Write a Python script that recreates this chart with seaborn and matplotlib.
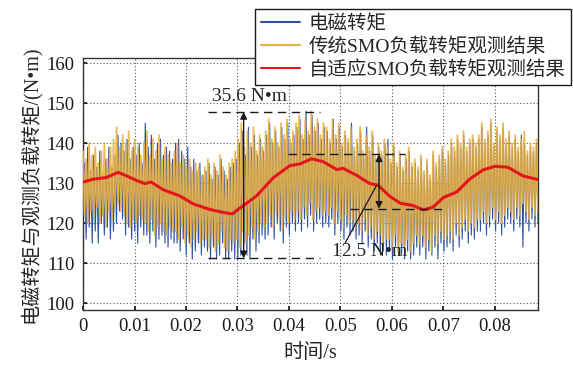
import numpy as np
import pandas as pd
import matplotlib
matplotlib.use("Agg")
import matplotlib.pyplot as plt
import seaborn as sns

# time span of the record (s)
t_end = 0.0884

# adaptive SMO observer (smooth red curve)
red_t = [0.0000, 0.0020, 0.0045, 0.0068, 0.0085, 0.0105, 0.0120, 0.0132, 0.0155,
         0.0188, 0.0214, 0.0247, 0.0275, 0.0290, 0.0305, 0.0337, 0.0370, 0.0402,
         0.0421, 0.0444, 0.0466, 0.0493, 0.0505, 0.0531, 0.0557, 0.0573, 0.0596,
         0.0616, 0.0641, 0.0661, 0.0680, 0.0700, 0.0726, 0.0751, 0.0777, 0.0800,
         0.0825, 0.0855, 0.0884]
red_v = [130.3, 131.0, 131.4, 132.7, 131.8, 130.6, 129.9, 130.3, 128.4,
         126.8, 124.8, 123.4, 122.6, 122.3, 123.8, 126.8, 131.4, 134.4,
         134.8, 136.1, 135.4, 133.4, 133.7, 132.0, 129.9, 129.5, 126.7,
         125.0, 124.4, 123.3, 124.0, 126.4, 127.8, 131.0, 133.3, 134.2,
         134.0, 131.8, 130.9]

# traditional SMO observer (orange): successive peaks and troughs
orange_peaks = [138, 136, 140, 137, 139, 135, 138, 140, 136, 139,
                141, 144, 139, 142, 140, 143, 138, 141, 139, 137,
                140, 143, 137, 141, 138, 142, 136, 139, 137, 135,
                138, 140, 135, 137, 134, 136, 133, 135, 134, 132,
                134, 136, 132, 135, 133, 137, 134, 132, 135, 136,
                138, 141, 145, 139, 143, 140, 144, 138, 142, 139,
                143, 146, 141, 144, 140, 145, 142, 146, 141, 143,
                145, 147, 142, 146, 143, 148, 144, 146, 142, 145,
                144, 141, 146, 142, 145, 140, 143, 141, 144, 139,
                141, 144, 138, 142, 139, 143, 137, 140, 138, 141,
                139, 136, 140, 135, 138, 134, 137, 139, 135, 136,
                134, 137, 133, 136, 132, 138, 135, 137, 139, 136,
                138, 141, 139, 142, 140, 143, 139, 141, 142, 140,
                142, 145, 141, 143, 146, 140, 144, 142, 145, 141,
                143, 140, 142, 139, 141, 143, 138, 140, 139, 141]
orange_troughs = [122, 120, 123, 121, 124, 120, 122, 119, 123, 121,
                  124, 125, 123, 122, 120, 119, 121, 120, 122, 121,
                  120, 118, 121, 117, 119, 120, 118, 117, 119, 118,
                  118, 116, 119, 115, 117, 114, 116, 118, 115, 116,
                  116, 114, 117, 113, 115, 118, 114, 113, 116, 115,
                  116, 114, 118, 115, 117, 119, 116, 118, 120, 119,
                  120, 122, 119, 123, 121, 118, 122, 120, 123, 121,
                  123, 121, 124, 122, 125, 121, 123, 124, 122, 123,
                  122, 124, 120, 123, 121, 119, 122, 120, 121, 119,
                  120, 118, 121, 117, 119, 116, 118, 117, 115, 116,
                  116, 114, 117, 113, 115, 114, 116, 113, 115, 117,
                  115, 117, 114, 116, 113, 117, 115, 118, 116, 117,
                  118, 116, 120, 117, 119, 121, 118, 120, 119, 121,
                  121, 123, 120, 122, 124, 121, 123, 120, 122, 124,
                  123, 121, 124, 122, 125, 123, 121, 124, 122, 123]

# electromagnetic torque (blue): successive peaks and troughs
blue_peaks = [135, 139, 133, 137, 134, 138, 132, 136, 139, 134,
              137, 142, 140, 138, 141, 136, 139, 137, 140, 135,
              145, 139, 142, 136, 140, 141, 137, 139, 138, 136,
              140, 141, 138, 136, 139, 134, 136, 133, 135, 132,
              133, 135, 131, 134, 132, 136, 133, 131, 134, 135,
              136, 140, 143, 137, 144, 139, 142, 137, 141, 138,
              142, 145, 140, 143, 139, 144, 141, 145, 140, 142,
              144, 146, 141, 148, 142, 147, 143, 145, 141, 144,
              143, 140, 146, 141, 144, 139, 142, 140, 145, 138,
              140, 143, 137, 144, 138, 142, 136, 139, 137, 140,
              141, 135, 139, 134, 137, 133, 136, 138, 134, 135,
              133, 136, 132, 135, 131, 137, 134, 136, 138, 135,
              137, 140, 138, 141, 139, 142, 138, 140, 141, 139,
              141, 144, 140, 142, 145, 139, 143, 141, 144, 140,
              142, 139, 141, 138, 142, 140, 137, 139, 138, 140]
blue_troughs = [116, 119, 115, 118, 115, 120, 117, 119, 116, 118,
                120, 123, 121, 117, 119, 116, 118, 115, 119, 117,
                117, 115, 118, 114, 116, 117, 115, 114, 116, 115,
                115, 113, 116, 112, 115, 111, 113, 115, 112, 114,
                113, 111, 114, 111, 112, 115, 111, 111, 113, 111,
                111, 112, 115, 112, 111, 116, 113, 115, 117, 116,
                117, 119, 116, 120, 118, 115, 119, 117, 120, 118,
                120, 118, 121, 119, 122, 118, 120, 121, 119, 120,
                119, 121, 117, 120, 118, 116, 119, 117, 118, 116,
                117, 115, 118, 114, 116, 113, 115, 112, 113, 112,
                113, 111, 114, 112, 112, 111, 113, 111, 112, 114,
                112, 114, 111, 113, 112, 114, 111, 115, 113, 114,
                115, 113, 117, 114, 116, 118, 115, 117, 116, 118,
                118, 120, 117, 119, 121, 118, 120, 117, 119, 121,
                120, 118, 121, 119, 114, 120, 118, 121, 119, 120]

legend_labels = ["电磁转矩", "传统SMO负载转矩观测结果", "自适应SMO负载转矩观测结果"]

# annotation values
span_big = (111.2, 147.8)
span_small = (123.6, 137.2)


def zigzag(peaks, troughs):
    vals = []
    for p, q in zip(peaks, troughs):
        vals.extend([p, q])
    return vals


orange_v = zigzag(orange_peaks, orange_troughs)
blue_v = zigzag(blue_peaks, blue_troughs)
orange_df = pd.DataFrame({"t": np.linspace(0, t_end, len(orange_v)), "v": orange_v})
blue_df = pd.DataFrame({"t": np.linspace(0.0003, t_end, len(blue_v)), "v": blue_v})
red_df = pd.DataFrame({"t": red_t, "v": red_v})

sns.set_theme(style="ticks")
fams = ["Liberation Serif", "Noto Sans CJK SC"]
plt.rcParams["font.family"] = fams
plt.rcParams["axes.unicode_minus"] = False

fig = plt.figure(figsize=(5.73, 3.65), dpi=100)
ax = fig.add_axes([0.145, 0.151, 0.794, 0.690])

c_blue = "#2c52a6"
c_orange = "#e8ae3e"
c_red = "#e3161b"

sns.lineplot(data=blue_df, x="t", y="v", ax=ax, color=c_blue, lw=0.8,
             sort=False, estimator=None, label=legend_labels[0], zorder=2)
sns.lineplot(data=orange_df, x="t", y="v", ax=ax, color=c_orange, lw=1.3, alpha=0.85,
             sort=False, estimator=None, label=legend_labels[1], zorder=3)
sns.lineplot(data=red_df, x="t", y="v", ax=ax, color=c_red, lw=2.2,
             sort=False, estimator=None, label=legend_labels[2], zorder=4)

ax.set_xlim(0, t_end)
ax.set_ylim(98.3, 161.3)
ax.set_xticks(np.arange(0, 0.081, 0.01))
ax.set_xticklabels(["0"] + ["%.2f" % v for v in np.arange(0.01, 0.081, 0.01)])
ax.set_yticks(range(100, 161, 10))
ax.grid(True, linestyle=(0, (1, 2)), color="#555555", lw=0.8)
ax.tick_params(direction="in", length=3, labelsize=13.5, colors="k", pad=6)
for s in ax.spines.values():
    s.set_visible(True)
    s.set_color("#333333")
    s.set_linewidth(1.0)

ax.set_xlabel("时间/s", fontsize=14.5, labelpad=6)
ax.set_ylabel("电磁转矩与观测负载转矩/(N•m)", fontsize=14.5, labelpad=4)

# 35.6 N•m span
dash = dict(color="k", lw=1.0, linestyle=(0, (6, 4)), zorder=6)
ax.plot([0.0243, 0.0460], [span_big[1]] * 2, **dash)
ax.plot([0.0243, 0.0460], [span_big[0]] * 2, **dash)
ax.annotate("", xy=(0.0312, span_big[1]), xytext=(0.0312, span_big[0]),
            arrowprops=dict(arrowstyle="<|-|>", color="k", lw=1.0, mutation_scale=10,
                            shrinkA=0, shrinkB=0), zorder=7)
ax.text(0.0324, 151.8, "35.6 N•m", fontsize=14, ha="center", va="center", zorder=7)

# 12.5 N•m span
ax.plot([0.0398, 0.0625], [span_small[1]] * 2, **dash)
ax.plot([0.0518, 0.0707], [span_small[0]] * 2, **dash)
ax.annotate("", xy=(0.0575, span_small[1]), xytext=(0.0575, span_small[0]),
            arrowprops=dict(arrowstyle="<|-|>", color="k", lw=1.0, mutation_scale=10,
                            shrinkA=0, shrinkB=0), zorder=7)
ax.plot([0.0509, 0.0570], [115.0, 129.4], color="k", lw=0.9, zorder=7)
ax.text(0.0556, 112.8, "12.5 N•m", fontsize=14, ha="center", va="center", zorder=7)

leg = ax.legend(loc="upper right", bbox_to_anchor=(0.997, 0.975),
                bbox_transform=fig.transFigure, fontsize=14, frameon=True,
                fancybox=False, edgecolor="k", framealpha=1, borderpad=0.3,
                labelspacing=0.22, handlelength=2.0, handletextpad=0.45,
                borderaxespad=0)
leg.get_frame().set_linewidth(1.0)
leg.set_zorder(10)
for h in leg.get_lines():
    h.set_linewidth(1.5)
    h.set_alpha(1)

fig.savefig("out.png", dpi=100)
